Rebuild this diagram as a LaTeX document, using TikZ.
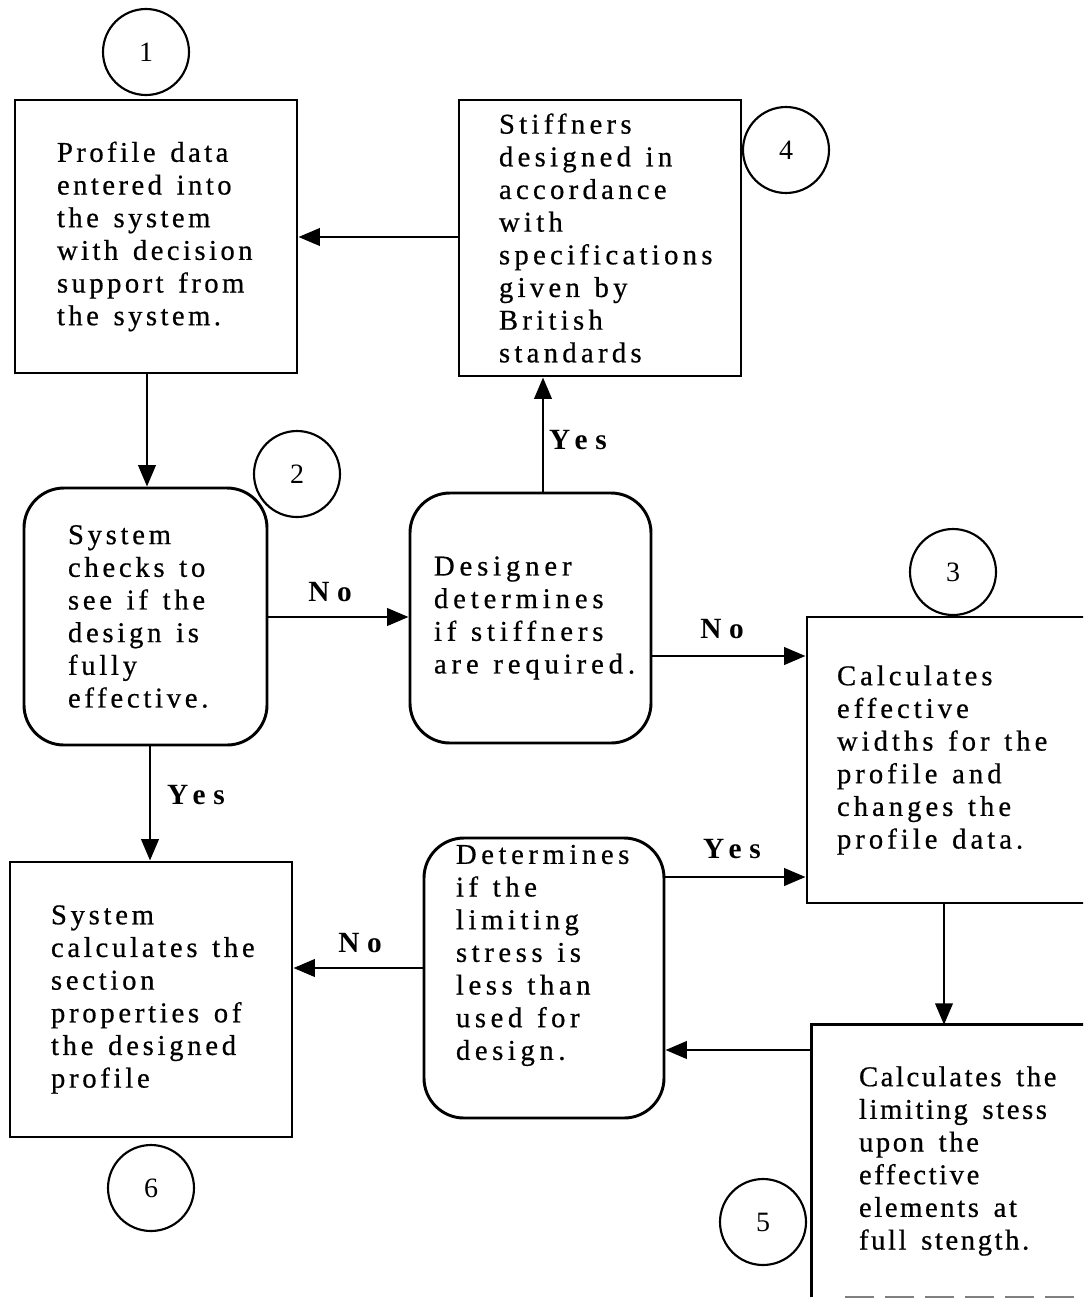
\documentclass[tikz,border=0pt]{standalone}
\usepackage{fontspec}
\setmainfont{Liberation Serif}
\usetikzlibrary{arrows.meta}
\newcommand{\widesp}{\setlength{\spaceskip}{11pt}\hfuzz=200pt\hbadness=10000}
\tikzset{
  px/.style={x=0.75pt,y=-0.75pt},
  boxtxt/.style={font=\fontsize{21.5}{24.5}\selectfont\addfontfeature{LetterSpace=#1,FakeBold=0.6},execute at begin node=\widesp},
  sqbox/.style={draw,line width=2.2pt,inner sep=0pt,align=left},
  rbox/.style={draw,line width=2.2pt,inner sep=0pt,align=left,rounded corners=30pt},
  numc/.style={draw,circle,line width=1.6pt,minimum size=64.5pt,inner sep=0pt,font=\fontsize{21}{22}\selectfont},
  lbl/.style={inner sep=0pt,font=\fontsize{22}{22}\selectfont\bfseries\addfontfeature{LetterSpace=26}},
  arr/.style={line width=2pt,-{Triangle[length=16pt,width=13pt]}}
}
\begin{document}
\begin{tikzpicture}[px]
\useasboundingbox (0,0) rectangle (1083,1300);
\clip (0,0) rectangle (1083,1300);
\fill[white] (0,0) rectangle (1083,1300);

% boxes
\node[sqbox,boxtxt=12,minimum width=211.5pt,minimum height=204.75pt,text width=148.5pt] (b1) at (156,236.5)
  {Profile~data\\entered~into\\the~system\\with~decision\\support~from\\the~system.};
\node[sqbox,boxtxt=15,minimum width=211.5pt,minimum height=207pt,text width=151.5pt] (b4) at (600,238)
  {Stiffners\\designed~in\\accordance\\with\\specifications\\given~by\\British\\standards};
\node[rbox,boxtxt=13,minimum width=182.25pt,minimum height=192.75pt,text width=116.25pt] (b2) at (145.5,616.5)
  {System\\checks~to\\see~if~the\\design~is\\fully\\effective.};
\node[rbox,boxtxt=17,minimum width=180.75pt,minimum height=187.5pt,text width=144.75pt] (dsg) at (530.5,618)
  {Designer\\determines\\if~stiffners\\are~required.};
\node[sqbox,boxtxt=14,minimum width=225pt,minimum height=214.5pt,text width=180pt] (b3) at (957,760)
  {Calculates\\effective\\widths~for~the\\profile~and\\changes~the\\profile~data.};
\node[sqbox,boxtxt=13,minimum width=211.5pt,minimum height=206.25pt,text width=150pt] (b6) at (151,999.5)
  {System\\calculates~the\\section\\properties~of\\the~designed\\profile};
\node[rbox,boxtxt=16,minimum width=180pt,minimum height=210pt,text width=132pt] (det) at (544,978)
  {Determines\\if~the\\limiting\\stress~is\\less~than\\used~for\\design.\\[14pt]\mbox{}};
\node[inner sep=0pt,align=left,boxtxt=9,minimum width=220.5pt,minimum height=204pt,text width=150pt] (b5) at (959,1161)
  {Calculates~the\\limiting~stess\\upon~the\\effective\\elements~at\\full~stength.};
\draw[line width=2.2pt] (b5.south west) -- (b5.north west) -- (b5.north east);
\draw[line width=1.2pt,dash pattern=on 22pt off 8pt,gray] ([xshift=25pt]b5.south west) -- (b5.south east);

% number circles
\node[numc] (c1) at (146,52) {1};
\node[numc] (c2) at (297,474) {2};
\node[numc] (c3) at (953,572) {3};
\node[numc] (c4) at (786,150) {4};
\node[numc] (c5) at (763,1222) {5};
\node[numc] (c6) at (151,1188) {6};

% connectors
\draw[arr] (b4.west |- 0,237) -- (b1.east |- 0,237);
\draw[arr] (b1.south -| 147,0) -- (b2.north -| 147,0);
\draw[arr] (b2.east |- 0,617) -- (dsg.west |- 0,617);
\draw[arr] (dsg.north -| 543,0) -- (b4.south -| 543,0);
\draw[arr] (dsg.east |- 0,656) -- (b3.west |- 0,656);
\draw[arr] (b2.south -| 150,0) -- (b6.north -| 150,0);
\draw[arr] (det.east |- 0,877) -- (b3.west |- 0,877);
\draw[arr] (det.west |- 0,968) -- (b6.east |- 0,968);
\draw[arr] (b3.south -| 944,0) -- (b5.north -| 944,0);
\draw[arr] (b5.west |- 0,1050) -- (det.east |- 0,1050);

% labels
\node[lbl] (l1) at (330,592) {No};
\node[lbl] (l2) at (578,440) {Yes};
\node[lbl] (l3) at (722,629) {No};
\node[lbl] (l4) at (196,795) {Yes};
\node[lbl] (l5) at (732,849) {Yes};
\node[lbl] (l6) at (360,943) {No};
\end{tikzpicture}
\end{document}
